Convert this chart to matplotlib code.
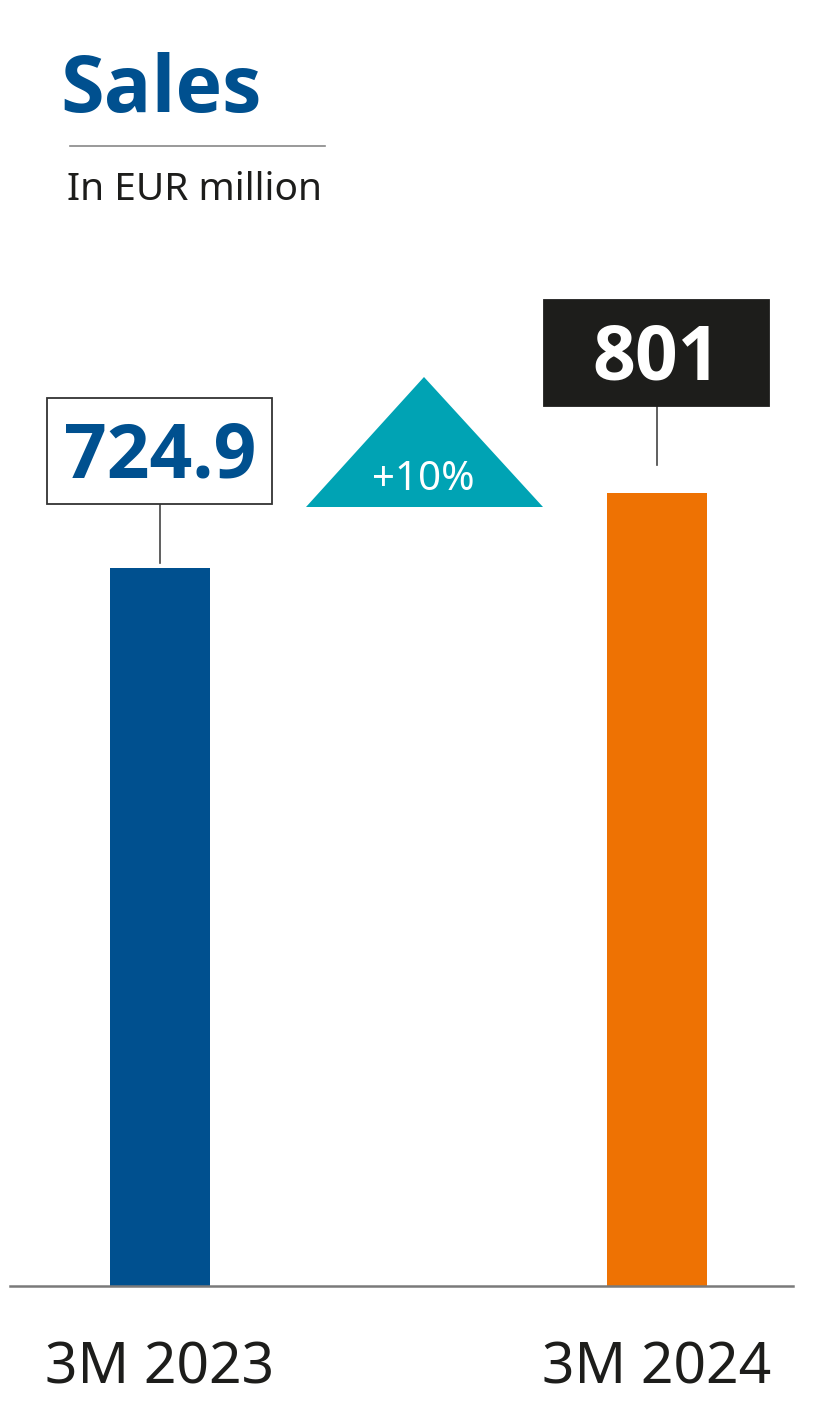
import matplotlib
matplotlib.use("Agg")
import matplotlib.pyplot as plt
from matplotlib import font_manager as fm
from matplotlib.patches import Rectangle, Polygon

# Data
categories = ["3M 2023", "3M 2024"]
sales = [724.9, 801]
value_labels = ["724.9", "801"]
change_label = "+10%"
title = "Sales"
subtitle = "In EUR million"

blue = "#00508F"
orange = "#EE7203"
teal = "#00A3B4"
dark = "#1D1D1B"
bar_colors = [blue, orange]

plt.rcParams["font.family"] = ["Noto Sans", "DejaVu Sans"]

# pick a family that really has a bold face
bold_family = "DejaVu Sans"
for cand in ["Noto Sans", "Open Sans", "Lato", "Roboto"]:
    if any(f.name == cand and (f.weight in ("bold", "heavy", "black") or
                               (isinstance(f.weight, int) and f.weight >= 700))
           for f in fm.fontManager.ttflist):
        bold_family = cand
        break

W, H = 814, 1408
fig = plt.figure(figsize=(W / 100, H / 100), dpi=100)


def fx(x):
    return x / W


def fy(y):
    return 1 - y / H


# axes: baseline at y=1286 px, spanning x 10..793 px
ax = fig.add_axes([fx(10), fy(1286), (793 - 10) / W, 1286 / H])
ymax = 1298.3
ax.set_ylim(0, ymax)
ax.set_xlim(-0.3021, 1.2749)
ax.axis("off")
ypx = ymax / 1286      # data units per pixel (vertical)
xpx = 1 / 496.5        # data units per pixel (horizontal)

xs = list(range(len(categories)))
ax.bar(xs, sales, width=100 * xpx, color=bar_colors, zorder=2)
ax.axhline(0, color="#7a7a7a", lw=1.8, zorder=3, clip_on=False)

# value boxes
box_gap = [64, 87]     # px between bar top and box bottom
line_gap = [5, 28]     # px between bar top and connector end
box_fc = ["white", dark]
box_ec = ["#333333", dark]
txt_col = [blue, "white"]
for i, v in enumerate(sales):
    bw, bh = 225 * xpx, 106 * ypx
    b0 = v + box_gap[i] * ypx
    ax.add_patch(Rectangle((xs[i] - bw / 2, b0), bw, bh, facecolor=box_fc[i],
                           edgecolor=box_ec[i], lw=1.3, zorder=4))
    ax.plot([xs[i], xs[i]], [v + line_gap[i] * ypx, b0], color="#444444",
            lw=1.2, zorder=3)
    ax.text(xs[i], b0 + 26 * ypx, value_labels[i], ha="center", va="baseline",
            fontsize=54, fontweight="bold", family=[bold_family, "DejaVu Sans"],
            color=txt_col[i], zorder=5)

# category labels
for i, c in enumerate(categories):
    ax.text(xs[i], -98 * ypx, c, ha="center", va="baseline", fontsize=41,
            color=dark, clip_on=False)

# change triangle
tri = Polygon([(fx(306), fy(507)), (fx(543), fy(507)), (fx(424), fy(377))],
              closed=True, transform=fig.transFigure, facecolor=teal,
              edgecolor="none")
fig.patches.append(tri)
fig.text(fx(423), fy(490), change_label, ha="center", va="baseline",
         fontsize=29, color="white")

# title block
fig.text(fx(60), fy(112), title, ha="left", va="baseline", fontsize=57,
         fontweight="bold", family=[bold_family, "DejaVu Sans"], color=blue)
fig.add_artist(plt.Line2D([fx(70), fx(325)], [fy(146), fy(146)],
                          transform=fig.transFigure, color="#888888", lw=1.2))
fig.text(fx(67), fy(200), subtitle, ha="left", va="baseline", fontsize=28,
         color=dark)

fig.savefig("out.png", dpi=100, facecolor="white")
